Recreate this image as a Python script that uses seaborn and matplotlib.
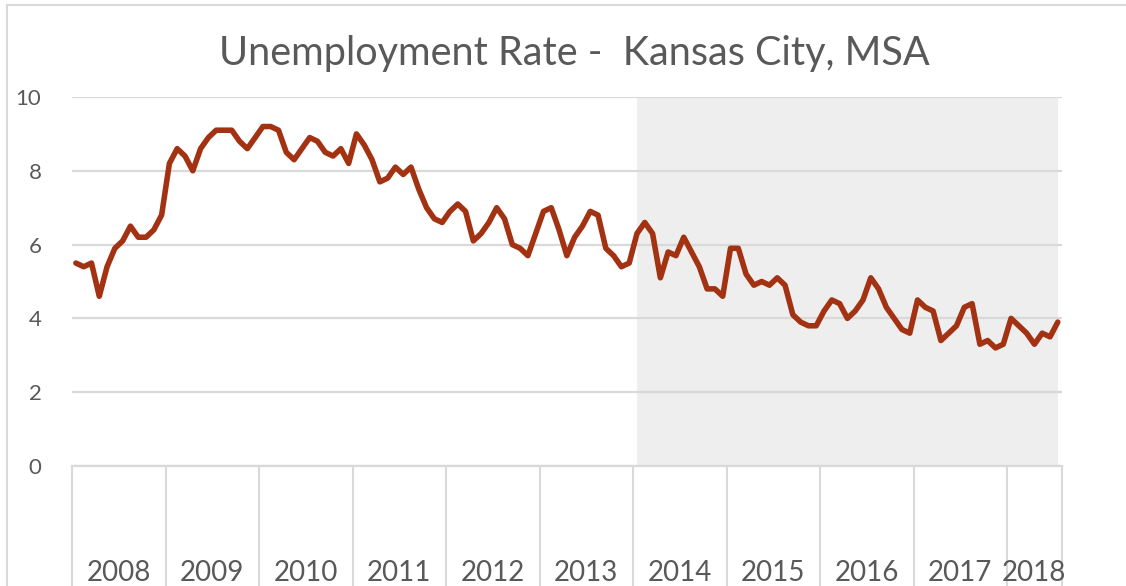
import seaborn as sns
import matplotlib.pyplot as plt
import pandas as pd

# monthly unemployment rate (%), Kansas City MSA, Jan 2008 - Jul 2018
rate_2008 = [5.5, 5.4, 5.5, 4.6, 5.4, 5.9, 6.1, 6.5, 6.2, 6.2, 6.4, 6.8]
rate_2009 = [8.2, 8.6, 8.4, 8.0, 8.6, 8.9, 9.1, 9.1, 9.1, 8.8, 8.6, 8.9]
rate_2010 = [9.2, 9.2, 9.1, 8.5, 8.3, 8.6, 8.9, 8.8, 8.5, 8.4, 8.6, 8.2]
rate_2011 = [9.0, 8.7, 8.3, 7.7, 7.8, 8.1, 7.9, 8.1, 7.5, 7.0, 6.7, 6.6]
rate_2012 = [6.9, 7.1, 6.9, 6.1, 6.3, 6.6, 7.0, 6.7, 6.0, 5.9, 5.7, 6.3]
rate_2013 = [6.9, 7.0, 6.4, 5.7, 6.2, 6.5, 6.9, 6.8, 5.9, 5.7, 5.4, 5.5]
rate_2014 = [6.3, 6.6, 6.3, 5.1, 5.8, 5.7, 6.2, 5.8, 5.4, 4.8, 4.8, 4.6]
rate_2015 = [5.9, 5.9, 5.2, 4.9, 5.0, 4.9, 5.1, 4.9, 4.1, 3.9, 3.8, 3.8]
rate_2016 = [4.2, 4.5, 4.4, 4.0, 4.2, 4.5, 5.1, 4.8, 4.3, 4.0, 3.7, 3.6]
rate_2017 = [4.5, 4.3, 4.2, 3.4, 3.6, 3.8, 4.3, 4.4, 3.3, 3.4, 3.2, 3.3]
rate_2018 = [4.0, 3.8, 3.6, 3.3, 3.6, 3.5, 3.9]

years = ['2008', '2009', '2010', '2011', '2012', '2013',
         '2014', '2015', '2016', '2017', '2018']
rates = [rate_2008, rate_2009, rate_2010, rate_2011, rate_2012, rate_2013,
         rate_2014, rate_2015, rate_2016, rate_2017, rate_2018]
shade_from = '2014'
title = 'Unemployment Rate -  Kansas City, MSA'

rows = []
for yr, vals in zip(years, rates):
    for m, v in enumerate(vals):
        rows.append({'year': yr, 'month': m + 1, 'rate': v})
df = pd.DataFrame(rows)
df['pos'] = range(len(df))

sns.set_style('white')
plt.rcParams['font.family'] = ['Lato', 'DejaVu Sans']

grey_txt = '#595959'
grey_ln = '#D9D9D9'

fig = plt.figure(figsize=(11.26, 5.86), dpi=100)
ax = fig.add_axes([72 / 1126, 120 / 586, (1061.7 - 72) / 1126, 369 / 586])

# shaded period
start = df.loc[df['year'] == shade_from, 'pos'].min()
ax.axvspan(start, df['pos'].max(), color='#EEEEEE', lw=0, zorder=0)

sns.lineplot(data=df, x='pos', y='rate', color='#A33212', linewidth=4.0,
             solid_joinstyle='round', solid_capstyle='round', ax=ax, zorder=3)

ax.set_xlim(-0.5, len(df) - 0.5)
ax.set_ylim(0, 10)
ax.set_yticks(range(0, 11, 2))
ax.set_xlabel('')
ax.set_ylabel('')

# year separators (major) and year labels (minor)
counts = df.groupby('year', sort=False).size()
edges = [-0.5]
centers = []
for n in counts:
    centers.append(edges[-1] + n / 2)
    edges.append(edges[-1] + n)
ax.set_xticks(edges)
ax.set_xticklabels([])
ax.set_xticks(centers, minor=True)
ax.set_xticklabels(counts.index, minor=True)
ax.tick_params(axis='x', which='major', bottom=True, length=90, width=1.5,
               color=grey_ln)
ax.tick_params(axis='x', which='minor', bottom=True, length=0, pad=68,
               labelsize=20, labelcolor=grey_txt)
ax.tick_params(axis='y', length=0, pad=22, labelsize=16, labelcolor=grey_txt)

ax.yaxis.grid(True, color=grey_ln, lw=1.6, zorder=1)
ax.xaxis.grid(False)
ax.set_axisbelow(True)
for s in ['left', 'right', 'top']:
    ax.spines[s].set_visible(False)
ax.spines['bottom'].set_color(grey_ln)
ax.spines['bottom'].set_linewidth(1.6)
ax.patch.set_alpha(0)

fig.text(574 / 1126, 1 - 54 / 586, title, ha='center', va='center',
         fontsize=28.5, color=grey_txt)

# chart frame (cut off at right and bottom)
fig.add_artist(plt.Rectangle((7 / 1126, -0.2), 1.2, 1 - 5 / 586 + 0.2,
                             transform=fig.transFigure, fill=False,
                             edgecolor=grey_ln, lw=1.5))

fig.savefig('out.png', dpi=100)
